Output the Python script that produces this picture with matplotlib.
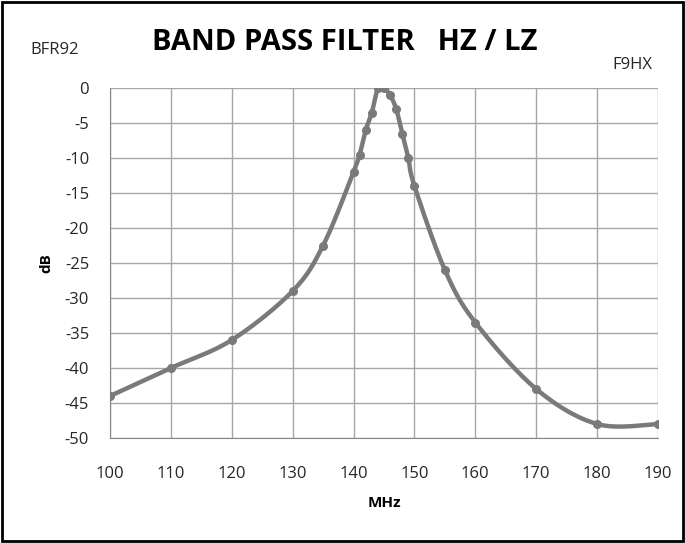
import numpy as np
import matplotlib.pyplot as plt
from matplotlib.patches import Rectangle

# data
freq = [100, 110, 120, 130, 135, 140, 141, 142, 143, 144, 145, 146, 147, 148, 149, 150, 155, 160, 170, 180, 190]
db = [-44, -40, -36, -29, -22.5, -12, -9.5, -6, -3.5, 0, 0, -1, -3, -6.5, -10, -14, -26, -33.5, -43, -48, -48]
xticks = list(range(100, 191, 10))
yticks = list(range(0, -51, -5))

plt.rcParams['font.family'] = ['Open Sans', 'DejaVu Sans']
plt.rcParams['axes.unicode_minus'] = False


def smooth(x, y, n=30):
    # Excel-style smoothed line: cubic bezier with Catmull-Rom control points
    x = np.asarray(x, float)
    y = np.asarray(y, float)
    px, py = [], []
    for i in range(len(x) - 1):
        x0, y0 = (x[i - 1], y[i - 1]) if i > 0 else (x[i], y[i])
        x3, y3 = (x[i + 2], y[i + 2]) if i + 2 < len(x) else (x[i + 1], y[i + 1])
        c1x = x[i] + (x[i + 1] - x0) / 6
        c1y = y[i] + (y[i + 1] - y0) / 6
        c2x = x[i + 1] - (x3 - x[i]) / 6
        c2y = y[i + 1] - (y3 - y[i]) / 6
        t = np.linspace(0, 1, n)
        a, b, c, d = (1 - t) ** 3, 3 * t * (1 - t) ** 2, 3 * t ** 2 * (1 - t), t ** 3
        px.extend(a * x[i] + b * c1x + c * c2x + d * x[i + 1])
        py.extend(a * y[i] + b * c1y + c * c2y + d * y[i + 1])
    return px, py


fig = plt.figure(figsize=(6.85, 5.43), dpi=100)
ax = fig.add_axes([110 / 685, 1 - 438 / 543, 548 / 685, 350 / 543])

sx, sy = smooth(freq, db)
ax.plot(sx, sy, color='#7a7a7a', lw=3.2, solid_capstyle='round', zorder=3)
ax.plot(freq, db, 'o', color='#7a7a7a', ms=5.5, zorder=4)

ax.set_xlim(100, 190)
ax.set_ylim(-50, 0)
ax.set_xticks(xticks)
ax.set_yticks(yticks)
ax.grid(True, color='#a6a6a6', lw=1)
ax.set_axisbelow(True)
for s in ax.spines.values():
    s.set_visible(False)
ax.spines['left'].set_visible(True)
ax.spines['bottom'].set_visible(True)
ax.spines['left'].set_color('#868686')
ax.spines['bottom'].set_color('#868686')
ax.tick_params(length=0, labelsize=12, colors='#262626')
ax.tick_params(axis='x', pad=20)
ax.tick_params(axis='y', pad=15)

ax.set_xlabel('MHz', fontsize=11, fontweight='bold', labelpad=10)
ax.set_ylabel('dB', fontsize=11, fontweight='bold', labelpad=8)

fig.text(345 / 685, 1 - 42 / 543, 'BAND PASS FILTER   HZ / LZ',
         ha='center', va='center', fontsize=21, fontweight='bold')
fig.text(30 / 685, 1 - 50 / 543, 'BFR92', ha='left', va='center', fontsize=12, color='#262626')
fig.text(612 / 685, 1 - 65 / 543, 'F9HX', ha='left', va='center', fontsize=12, color='#262626')

fig.patches.append(Rectangle((0.003, 0.003), 0.994, 0.994, transform=fig.transFigure,
                             fill=False, ec='black', lw=2))

fig.savefig('out.png', dpi=100)
